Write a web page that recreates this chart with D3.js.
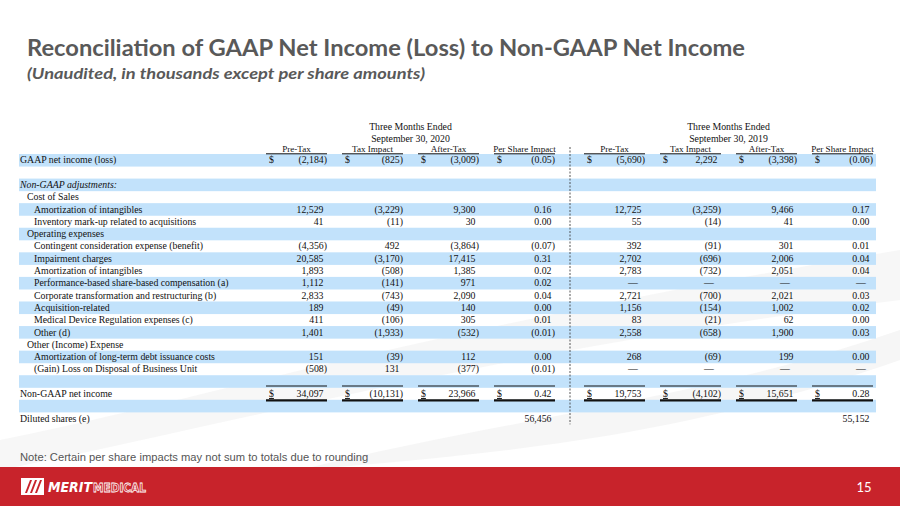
<!DOCTYPE html>
<html><head><meta charset="utf-8">
<script src="https://cdn.jsdelivr.net/npm/d3@7"></script>
<style>
html,body{margin:0;padding:0;background:#fff;}
svg{display:block;}
</style></head>
<body>
<svg id="chart" width="900" height="506"></svg>
<script>
// ---------- DATA ----------
const titleText = "Reconciliation of GAAP Net Income (Loss) to Non-GAAP Net Income";
const subtitleText = "(Unaudited, in thousands except per share amounts)";
const noteText = "Note: Certain per share impacts may not sum to totals due to rounding";
const periods = ["September 30, 2020", "September 30, 2019"];
const columnHeaders = ["Pre-Tax", "Tax Impact", "After-Tax", "Per Share Impact"];

const rowLabels = [
  "GAAP net income (loss)", "", "Non-GAAP adjustments:", "Cost of Sales",
  "Amortization of intangibles", "Inventory mark-up related to acquisitions",
  "Operating expenses", "Contingent consideration expense (benefit)",
  "Impairment charges", "Amortization of intangibles",
  "Performance-based share-based compensation (a)",
  "Corporate transformation and restructuring (b)", "Acquisition-related",
  "Medical Device Regulation expenses (c)", "Other (d)", "Other (Income) Expense",
  "Amortization of long-term debt issuance costs",
  "(Gain) Loss on Disposal of Business Unit", "", "Non-GAAP net income", "",
  "Diluted shares (e)"
];
const rowIndent = [0,0,0,1,2,2,1,2,2,2,2,2,2,2,2,1,2,2,0,0,0,0];

// rows that carry numbers (index into rowLabels); null = em dash
const dataRows = [0,4,5,7,8,9,10,11,12,13,14,16,17,19];
const preTax2020   = [-2184, 12529, 41, -4356, 20585, 1893, 1112, 2833, 189, 411, 1401, 151, -508, 34097];
const taxImpact2020= [-825, -3229, -11, 492, -3170, -508, -141, -743, -49, -106, -1933, -39, 131, -10131];
const afterTax2020 = [-3009, 9300, 30, -3864, 17415, 1385, 971, 2090, 140, 305, -532, 112, -377, 23966];
const perShare2020 = [-0.05, 0.16, 0.00, -0.07, 0.31, 0.02, 0.02, 0.04, 0.00, 0.01, -0.01, 0.00, -0.01, 0.42];
const preTax2019   = [-5690, 12725, 55, 392, 2702, 2783, null, 2721, 1156, 83, 2558, 268, null, 19753];
const taxImpact2019= [2292, -3259, -14, -91, -696, -732, null, -700, -154, -21, -658, -69, null, -4102];
const afterTax2019 = [-3398, 9466, 41, 301, 2006, 2051, null, 2021, 1002, 62, 1900, 199, null, 15651];
const perShare2019 = [-0.06, 0.17, 0.00, 0.01, 0.04, 0.04, null, 0.03, 0.02, 0.00, 0.03, 0.00, null, 0.28];
const dilutedShares = [56456, 55152];
const dollarRows = [0, 19];
const totalRow = 19;
const dilutedRow = 21;

// ---------- DRAW ----------
const svg = d3.select("#chart");
const serif = "'Liberation Serif','Times New Roman',serif";
const FS = 9.8;

// faint background swoosh
const bg = svg.append("g");
bg.append("path")
  .attr("d","M0,440 C200,400 420,330 900,250 L900,300 C500,350 250,420 0,470 Z")
  .attr("fill","#f1f1f1").attr("opacity",0.6);
bg.append("path")
  .attr("d","M300,470 C500,420 700,400 900,330 L900,360 C700,430 550,450 300,470 Z")
  .attr("fill","#eeeeee").attr("opacity",0.5);

// title
svg.append("text").attr("x",27).attr("y",56)
  .attr("font-family","Lato, 'Open Sans', sans-serif").attr("font-weight","bold")
  .attr("font-size",22).attr("fill","#595959")
  .attr("textLength",718).attr("lengthAdjust","spacingAndGlyphs")
  .text(titleText);
svg.append("text").attr("x",27).attr("y",79)
  .attr("font-family","Lato, 'Open Sans', sans-serif").attr("font-weight","bold")
  .attr("font-style","italic")
  .attr("font-size",15).attr("fill","#595959")
  .attr("textLength",398).attr("lengthAdjust","spacingAndGlyphs")
  .text(subtitleText);

// scales
const y = d3.scaleBand().domain(d3.range(rowLabels.length)).range([154, 154 + rowLabels.length*12.29]).paddingInner(0);
const colRight = d3.scaleLinear().domain([0,3]).range([327,555]);
const periodOffset = d3.scaleOrdinal().domain([0,1]).range([0,318]);
const colWidth = 63;
const xRight = (p,c) => colRight(c) + periodOffset(p);
const xLeft  = (p,c) => xRight(p,c) + 2 - colWidth;

// row bands
svg.append("g").selectAll("rect").data(d3.range(rowLabels.length).filter(i => i%2===0))
  .join("rect")
  .attr("x",19).attr("width",857)
  .attr("y", i => y(i)).attr("height", y.bandwidth()+0.3)
  .attr("fill","#c2e2fb");

// row labels
const indentX = [20,27,34];
svg.append("g").selectAll("text").data(rowLabels.map((t,i)=>({t,i})).filter(d=>d.t))
  .join("text")
  .attr("x", d => indentX[rowIndent[d.i]])
  .attr("y", d => y(d.i) + y.bandwidth()/2 + 3.3)
  .attr("font-family", serif).attr("font-size", FS)
  .attr("font-style", d => d.i===2 ? "italic" : "normal")
  .attr("fill","#111")
  .text(d => d.t);

// headers
const hdr = svg.append("g").attr("font-family",serif).attr("font-size",9.4).attr("fill","#111").attr("text-anchor","middle");
periods.forEach((p,pi) => {
  const cx = (xLeft(pi,0) + xRight(pi,3)) / 2;
  hdr.append("text").attr("x",cx).attr("y",130).attr("font-size",FS).text("Three Months Ended");
  hdr.append("text").attr("x",cx).attr("y",142).attr("font-size",FS).text(p);
  columnHeaders.forEach((h,ci) => {
    const l = xLeft(pi,ci), r = xRight(pi,ci);
    hdr.append("text").attr("x",(l+r)/2).attr("y",151.5).attr("font-size",9.1).text(h);
    svg.append("line").attr("x1",l).attr("x2",r).attr("y1",153.8).attr("y2",153.8)
      .attr("stroke","#111").attr("stroke-width",1);
  });
});

// dashed separator
svg.append("line").attr("x1",570).attr("x2",570).attr("y1",147).attr("y2",y(dilutedRow)+y.bandwidth())
  .attr("stroke","#444").attr("stroke-width",0.9).attr("stroke-dasharray","2,1.5");

// number formatting
const fmtInt = d3.format(",");
const fmtPS = d3.format(".2f");
function fmt(v, isPS){
  if (v === null) return "—";
  const s = isPS ? fmtPS(Math.abs(v)) : fmtInt(Math.abs(v));
  return v < 0 ? "(" + s + ")" : s;
}

const series = [
  [preTax2020, taxImpact2020, afterTax2020, perShare2020],
  [preTax2019, taxImpact2019, afterTax2019, perShare2019]
];
const cells = [];
series.forEach((cols,pi) => cols.forEach((arr,ci) => arr.forEach((v,k) => {
  cells.push({p:pi, c:ci, row:dataRows[k], v});
})));

const cg = svg.append("g").attr("font-family",serif).attr("font-size",FS).attr("fill","#111");
cg.selectAll("text.val").data(cells).join("text").attr("class","val")
  .attr("text-anchor", d => d.v === null ? "middle" : "end")
  .attr("x", d => d.v === null ? xRight(d.p,d.c) - 12 : (d.v < 0 ? xRight(d.p,d.c) : xRight(d.p,d.c) - 3.5))
  .attr("y", d => y(d.row) + y.bandwidth()/2 + 3.3)
  .text(d => fmt(d.v, d.c === 3));

// dollar signs
const dollarCells = [];
dollarRows.forEach(r => [0,1].forEach(p => [0,1,2,3].forEach(c => dollarCells.push({r,p,c}))));
cg.selectAll("text.dol").data(dollarCells).join("text").attr("class","dol")
  .attr("x", d => xLeft(d.p,d.c) + 3)
  .attr("y", d => y(d.r) + y.bandwidth()/2 + 3.3)
  .attr("text-decoration", d => d.r === totalRow ? "underline" : null)
  .text("$");

// total lines
const tl = svg.append("g");
[0,1].forEach(p => [0,1,2,3].forEach(c => {
  tl.append("line").attr("x1",xLeft(p,c)).attr("x2",xRight(p,c))
    .attr("y1",y(totalRow)-1.5).attr("y2",y(totalRow)-1.5).attr("stroke","#111").attr("stroke-width",1);
  tl.append("line").attr("x1",xLeft(p,c)).attr("x2",xRight(p,c))
    .attr("y1",y(totalRow)+y.bandwidth()+0.5).attr("y2",y(totalRow)+y.bandwidth()+0.5).attr("stroke","#111").attr("stroke-width",2.2);
}));

// diluted shares
cg.selectAll("text.dil").data(dilutedShares).join("text").attr("class","dil")
  .attr("text-anchor","end")
  .attr("x",(d,i) => xRight(i,3) - 3.5)
  .attr("y", y(dilutedRow) + y.bandwidth()/2 + 3.3)
  .text(d => fmtInt(d));

// note
svg.append("text").attr("x",20).attr("y",461)
  .attr("font-family","'Liberation Sans', Arial, sans-serif").attr("font-size",11.2).attr("fill","#555")
  .text(noteText);

// footer
svg.append("rect").attr("x",0).attr("y",467).attr("width",900).attr("height",39).attr("fill","#c8232b");
svg.append("text").attr("x",864).attr("y",492).attr("text-anchor","middle")
  .attr("font-family","Lato, 'Open Sans', sans-serif").attr("font-size",13).attr("fill","#fff").text("15");

// logo
const logo = svg.append("g").attr("transform","translate(21,478)");
logo.append("rect").attr("width",23).attr("height",17).attr("fill","#fff");
[0,1,2].forEach(i => logo.append("path")
  .attr("d",`M${4+i*5},15 L${9+i*5},2 L${11+i*5},2 L${6+i*5},15 Z`).attr("fill","#c8232b"));
logo.append("text").attr("x",27).attr("y",14).attr("font-family","'DejaVu Sans', sans-serif")
  .attr("font-weight","bold").attr("font-style","italic").attr("font-size",13.5).attr("fill","#fff")
  .attr("textLength",44).attr("lengthAdjust","spacingAndGlyphs").text("MERIT");
logo.append("text").attr("x",72).attr("y",14).attr("font-family","'DejaVu Sans', sans-serif")
  .attr("font-weight","bold").attr("font-size",13).attr("fill","none").attr("stroke","#fff").attr("stroke-width",0.8)
  .attr("textLength",53).attr("lengthAdjust","spacingAndGlyphs").text("MEDICAL");
</script>
</body></html>
